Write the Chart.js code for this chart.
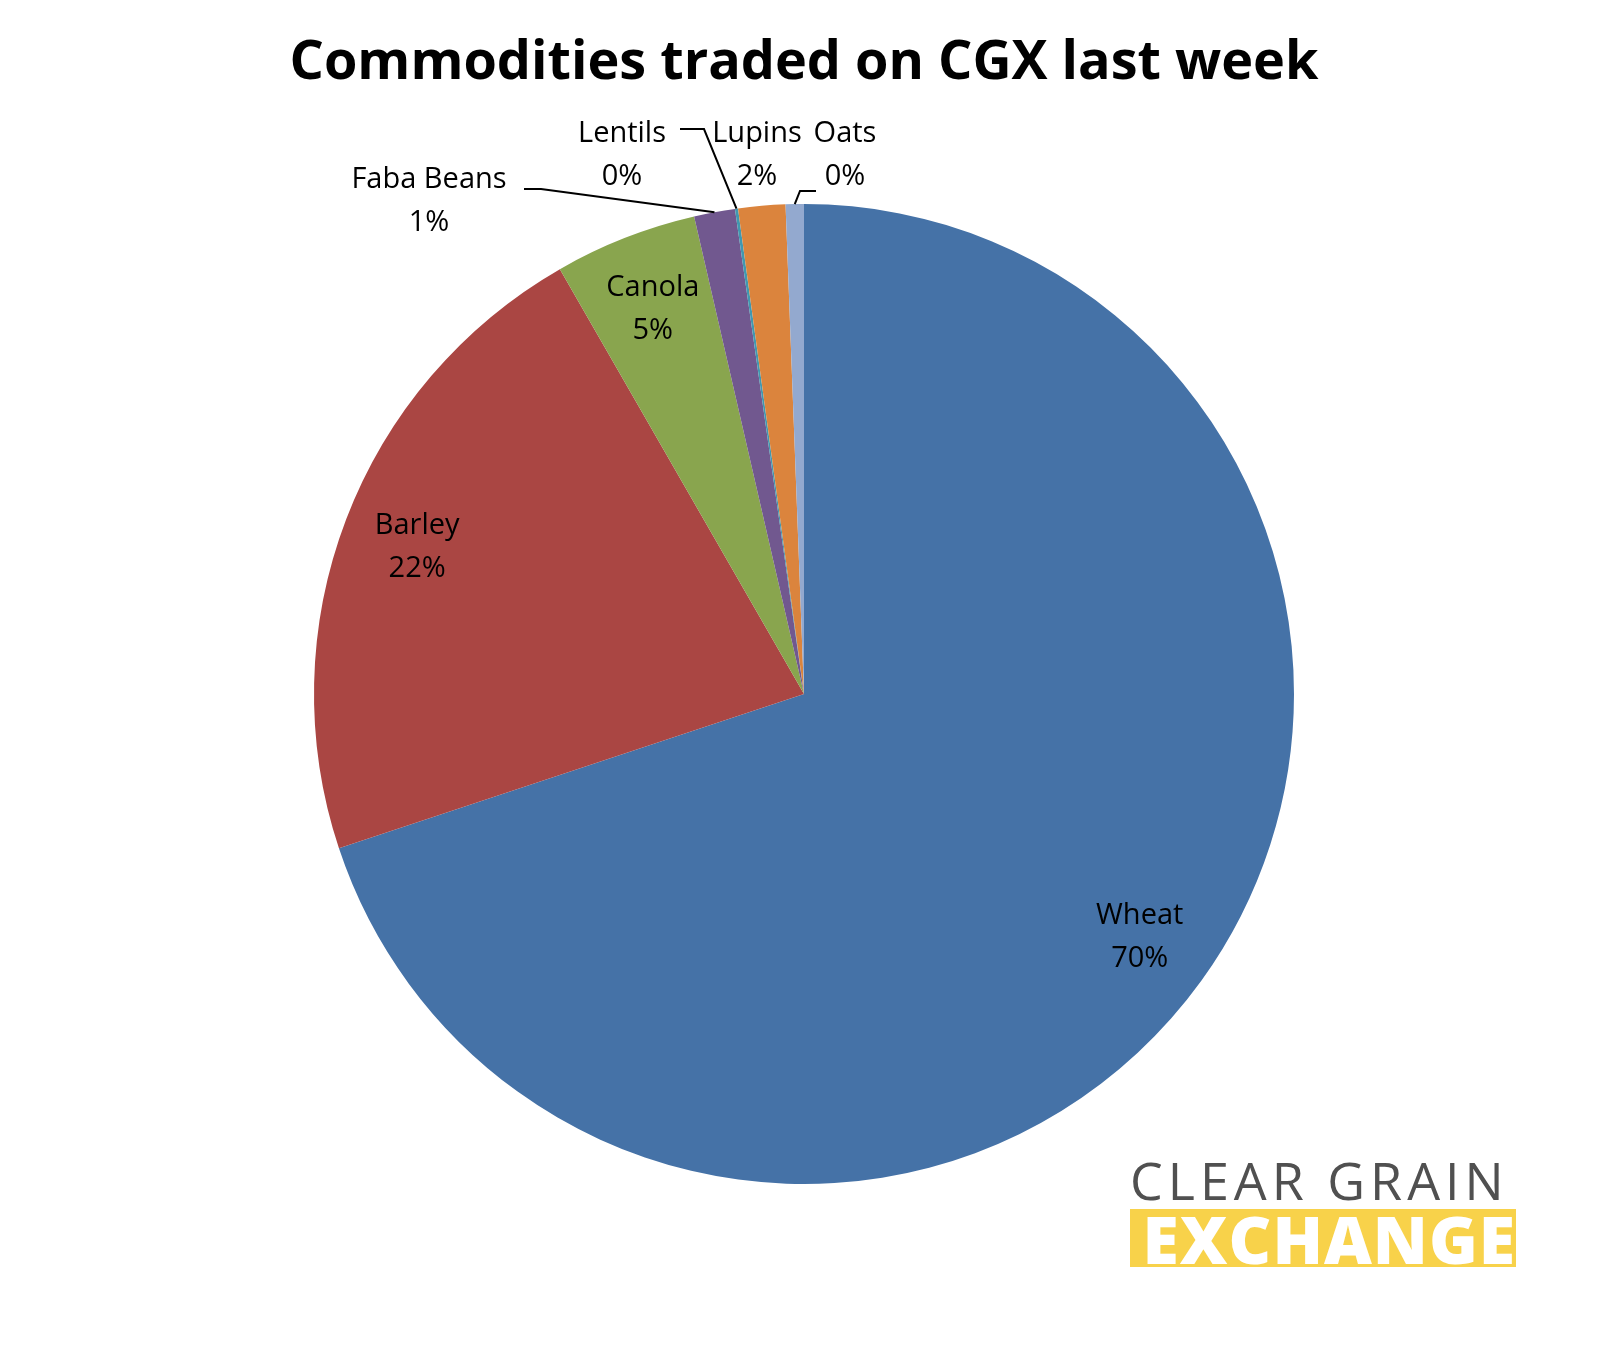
<!DOCTYPE html>
<html>
<head>
<meta charset="utf-8">
<script src="https://cdn.jsdelivr.net/npm/chart.js@4"></script>
<style>
  body { margin: 0; background: #fff; }
  #wrap { position: relative; width: 1608px; height: 1350px; }
  .logo1 { position: absolute; left: 1130px; top: 1150px; width: 400px; font: 52px "Open Sans", sans-serif; color: #505050; letter-spacing: 5px; line-height: 60px; white-space: nowrap; }
  .logo2 { position: absolute; left: 1130px; top: 1209px; width: 386px; height: 58px; background: #F8D24A;
           font: 800 66px "Open Sans", sans-serif; color: #fff; line-height: 58px; text-align: right; letter-spacing: 1px; overflow: hidden; white-space: nowrap; }
</style>
</head>
<body>
<div id="wrap">
  <canvas id="pie" width="1608" height="1350"></canvas>
  <div class="logo1">CLEAR GRAIN</div>
  <div class="logo2">EXCHANGE</div>
</div>
<script>
// Chart data
const categories = ['Wheat', 'Barley', 'Canola', 'Faba Beans', 'Lentils', 'Lupins', 'Oats'];
const shares = [69.9, 21.8, 4.7, 1.35, 0.1, 1.55, 0.6];
const pctLabels = ['70%', '22%', '5%', '1%', '0%', '2%', '0%'];
const colors = ['#4572A7', '#AA4643', '#89A54E', '#71588F', '#4198AF', '#DB843D', '#93A9CF'];

// outside label centres and leader-line elbows
const outside = {
  3: { lx: 429, ly: 201, elbow: [524, 189, 541, 189] },
  4: { lx: 622, ly: 155, elbow: [680, 129, 704, 129] },
  5: { lx: 757, ly: 155, elbow: null },
  6: { lx: 845, ly: 155, elbow: [816, 191, 800, 191] }
};

const labelPlugin = {
  id: 'labels',
  afterDraw(chart) {
    const ctx = chart.ctx;
    ctx.save();
    ctx.fillStyle = '#000';
    ctx.textAlign = 'center';
    ctx.textBaseline = 'middle';
    ctx.font = 'bold 54px "Open Sans", sans-serif';
    ctx.fillText('Commodities traded on CGX last week', 804, 64);

    ctx.font = '29px "Open Sans", sans-serif';
    const arcs = chart.getDatasetMeta(0).data;
    arcs.forEach((arc, i) => {
      const mid = (arc.startAngle + arc.endAngle) / 2;
      const o = outside[i];
      if (!o) {
        const r = arc.outerRadius * 0.845;
        const x = arc.x + Math.cos(mid) * r, y = arc.y + Math.sin(mid) * r;
        ctx.fillText(categories[i], x, y - 21);
        ctx.fillText(pctLabels[i], x, y + 22);
        return;
      }
      ctx.fillText(categories[i], o.lx, o.ly - 21);
      ctx.fillText(pctLabels[i], o.lx, o.ly + 22);
      if (o.elbow) {
        const ex = arc.x + Math.cos(mid) * arc.outerRadius;
        const ey = arc.y + Math.sin(mid) * arc.outerRadius;
        ctx.strokeStyle = '#000';
        ctx.lineWidth = 2;
        ctx.beginPath();
        ctx.moveTo(o.elbow[0], o.elbow[1]);
        ctx.lineTo(o.elbow[2], o.elbow[3]);
        ctx.lineTo(ex, ey);
        ctx.stroke();
      }
    });
    ctx.restore();
  }
};

new Chart(document.getElementById('pie'), {
  type: 'pie',
  data: {
    labels: categories,
    datasets: [{ data: shares, backgroundColor: colors, borderWidth: 0 }]
  },
  options: {
    responsive: false,
    animation: false,
    layout: { padding: { left: 0, right: 0, top: 204, bottom: 166 } },
    plugins: { legend: { display: false }, tooltip: { enabled: false } }
  },
  plugins: [labelPlugin]
});
</script>
</body>
</html>
